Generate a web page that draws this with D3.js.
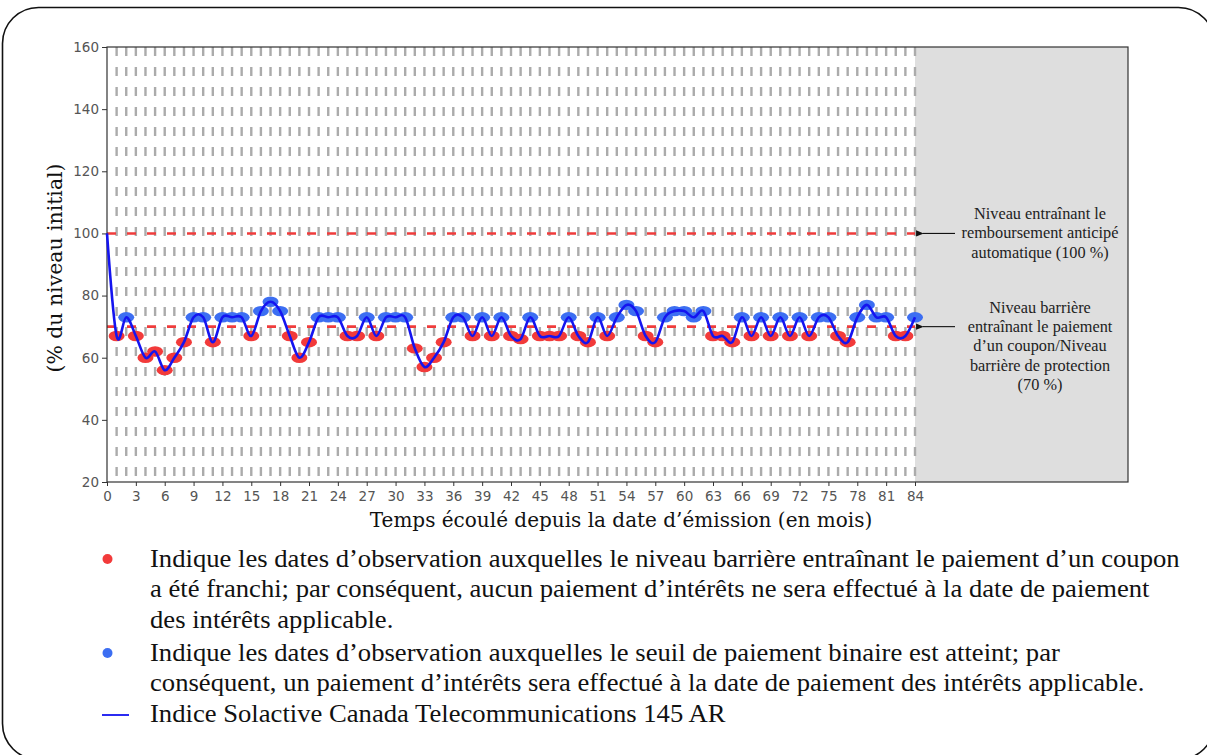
<!DOCTYPE html>
<html>
<head>
<meta charset="utf-8">
<script src="https://cdn.jsdelivr.net/npm/d3@7/dist/d3.min.js"></script>
<style>
  html, body { margin: 0; padding: 0; background: #fff; }
  svg { display: block; }
</style>
</head>
<body>
<svg id="chart" width="1207" height="755"></svg>
<script>
// ---------- DATA ----------
const months = d3.range(0, 85);
const indexValues = [
  100, 67, 73, 67, 60, 62, 56, 60, 65, 73,
  73, 65, 73, 73, 73, 67, 75, 78, 75, 67,
  60, 65, 73, 73, 73, 67, 67, 73, 67, 73,
  73, 73, 63, 57, 60, 65, 73, 73, 67, 73,
  67, 73, 67, 66, 73, 67, 67, 67, 73, 67,
  65, 73, 67, 73, 77, 75, 67, 65, 73, 75,
  75, 73, 75, 67, 67, 65, 73, 67, 73, 67,
  73, 67, 73, 67, 73, 73, 67, 65, 73, 77,
  73, 73, 67, 67, 73
];
const observationMonths = d3.range(1, 85);
const barrierLevel = 70;
const autocallLevel = 100;
const xTicks = d3.range(0, 85, 3);
const yTicks = [20, 40, 60, 80, 100, 120, 140, 160];
const yAxisTitle = "(% du niveau initial)";
const xAxisTitle = "Temps écoulé depuis la date d’émission (en mois)";
const autocallNote = ["Niveau entraînant le", "remboursement anticipé", "automatique (100 %)"];
const barrierNote = ["Niveau barrière", "entraînant le paiement", "d’un coupon/Niveau", "barrière de protection", "(70 %)"];
const legendRed = [
  "Indique les dates d’observation auxquelles le niveau barrière entraînant le paiement d’un coupon",
  "a été franchi; par conséquent, aucun paiement d’intérêts ne sera effectué à la date de paiement",
  "des intérêts applicable."
];
const legendBlue = [
  "Indique les dates d’observation auxquelles le seuil de paiement binaire est atteint; par",
  "conséquent, un paiement d’intérêts sera effectué à la date de paiement des intérêts applicable."
];
const legendLine = ["Indice Solactive Canada Telecommunications 145 AR"];

// ---------- LAYOUT ----------
const svg = d3.select("#chart");
const plotLeft = 107, plotRight = 1128, plotTop = 47, plotBottom = 482;
const x = d3.scaleLinear().domain([0, 84]).range([107, 915]);
const y = d3.scaleLinear().domain([20, 160]).range([plotBottom, plotTop]);

const RED = "#f23a3a", BLUE_M = "#3c6ef2", LINE = "#1414f0";

// outer rounded frame
svg.append("rect")
  .attr("x", 2.5).attr("y", 7.5).attr("width", 1212).attr("height", 752)
  .attr("rx", 36).attr("ry", 36)
  .attr("fill", "none").attr("stroke", "#111").attr("stroke-width", 1.6);

// arrow marker
svg.append("defs").append("marker")
  .attr("id", "arr").attr("viewBox", "0 0 10 10").attr("refX", 1).attr("refY", 5)
  .attr("markerWidth", 7).attr("markerHeight", 7).attr("orient", "auto-start-reverse")
  .append("path").attr("d", "M10,1 L0,5 L10,9 Z").attr("fill", "#111");

// shaded region after maturity
svg.append("rect")
  .attr("x", x(84)).attr("y", plotTop)
  .attr("width", plotRight - x(84)).attr("height", plotBottom - plotTop)
  .attr("fill", "#dedede");

// vertical gray dashed observation lines
svg.append("g").selectAll("line").data(observationMonths).join("line")
  .attr("x1", d => x(d)).attr("x2", d => x(d))
  .attr("y1", plotTop).attr("y2", plotBottom)
  .attr("stroke", "#ababab").attr("stroke-width", 2.4)
  .attr("stroke-dasharray", "9,11");

// red dashed reference lines
svg.append("g").selectAll("line").data([autocallLevel, barrierLevel]).join("line")
  .attr("x1", x(0)).attr("x2", x(84))
  .attr("y1", d => y(d)).attr("y2", d => y(d))
  .attr("stroke", "#f03c3c").attr("stroke-width", 2.6)
  .attr("stroke-dasharray", "9,11");

// spines
svg.append("rect")
  .attr("x", plotLeft).attr("y", plotTop)
  .attr("width", plotRight - plotLeft).attr("height", plotBottom - plotTop)
  .attr("fill", "none").attr("stroke", "#333").attr("stroke-width", 1.2);

// axes
const yAxis = svg.append("g").attr("transform", `translate(${plotLeft},0)`)
  .call(d3.axisLeft(y).tickValues(yTicks).tickSize(5).tickPadding(3));
const xAxis = svg.append("g").attr("transform", `translate(0,${plotBottom})`)
  .call(d3.axisBottom(x).tickValues(xTicks).tickSize(4).tickPadding(5));
[yAxis, xAxis].forEach(g => {
  g.select(".domain").remove();
  g.selectAll(".tick line").attr("stroke", "#333");
  g.selectAll(".tick text").attr("fill", "#555")
    .style("font-family", "DejaVu Sans, sans-serif").style("font-size", "13.5px");
});

// markers
const pts = months.slice(1).map(m => ({ m, v: indexValues[m] }));
svg.append("g").selectAll("ellipse").data(pts).join("ellipse")
  .attr("cx", d => x(d.m)).attr("cy", d => y(d.v))
  .attr("rx", 8).attr("ry", 5.2)
  .attr("fill", d => d.v >= barrierLevel ? BLUE_M : RED);

// index line
const lineGen = d3.line().x((d, i) => x(months[i])).y(d => y(d))
  .curve(d3.curveCardinal.tension(0));
svg.append("path").datum(indexValues)
  .attr("d", lineGen).attr("fill", "none")
  .attr("stroke", LINE).attr("stroke-width", 2.6);

// axis titles
svg.append("text")
  .attr("transform", "translate(62,268) rotate(-90)")
  .attr("text-anchor", "middle")
  .style("font-family", "DejaVu Serif, serif").style("font-size", "20.4px")
  .attr("fill", "#111").text(yAxisTitle);
svg.append("text")
  .attr("x", 621).attr("y", 527).attr("text-anchor", "middle")
  .style("font-family", "DejaVu Serif, serif").style("font-size", "20px")
  .attr("fill", "#111").text(xAxisTitle);

// annotations
function note(lines, y0, dy) {
  svg.append("g").selectAll("text").data(lines).join("text")
    .attr("x", 1040).attr("y", (d, i) => y0 + i * dy)
    .attr("text-anchor", "middle").attr("dominant-baseline", "central")
    .style("font-family", "Liberation Serif, serif").style("font-size", "16.3px")
    .attr("fill", "#222").text(d => d);
}
note(autocallNote, 213, 19.7);
note(barrierNote, 307, 19.4);
[autocallLevel, barrierLevel].forEach(v => {
  svg.append("line")
    .attr("x1", 955).attr("x2", 923).attr("y1", y(v)).attr("y2", y(v))
    .attr("stroke", "#111").attr("stroke-width", 1.1)
    .attr("marker-end", "url(#arr)");
});

// legend
const legFont = "Liberation Serif, Times New Roman, serif";
const legG = svg.append("g");
function legendLines(lines, y0) {
  return legG.append("g").selectAll("text").data(lines).join("text")
    .attr("x", 0).attr("y", (d, i) => y0 + i * 30.5)
    .style("font-family", legFont).style("font-size", "25px")
    .attr("fill", "#111").text(d => d);
}
const firstLines = legendLines(legendRed, 567);
legendLines(legendBlue, 661);
legendLines(legendLine, 722);
// horizontal stretch so the first legend line spans 150 -> 1180 as in the reference
const natural = firstLines.node().getComputedTextLength();
const sx = natural > 0 ? 1030 / natural : 1;
legG.attr("transform", `translate(150,0) scale(${sx},1)`);

svg.append("circle").attr("cx", 107.5).attr("cy", 559).attr("r", 5).attr("fill", RED);
svg.append("circle").attr("cx", 107.5).attr("cy", 653).attr("r", 5).attr("fill", BLUE_M);
svg.append("line").attr("x1", 102).attr("x2", 129).attr("y1", 715).attr("y2", 715)
  .attr("stroke", LINE).attr("stroke-width", 1.8);
</script>
</body>
</html>
